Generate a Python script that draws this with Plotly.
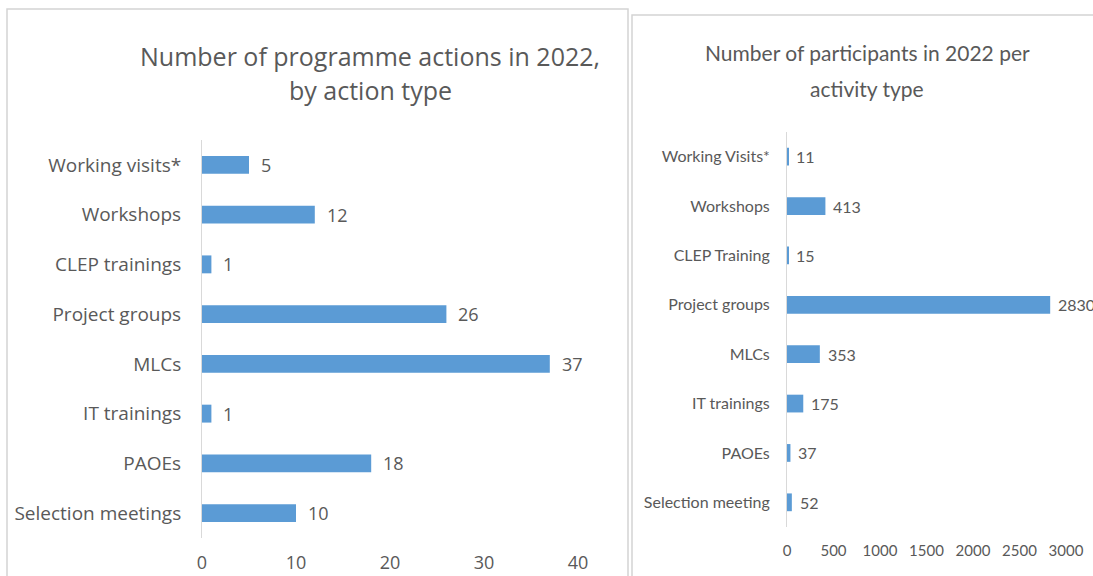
import plotly.graph_objects as go

# left chart: number of actions
action_types = ["Working visits*", "Workshops", "CLEP trainings", "Project groups",
                "MLCs", "IT trainings", "PAOEs", "Selection meetings"]
action_counts = [5, 12, 1, 26, 37, 1, 18, 10]
action_ticks = [0, 10, 20, 30, 40]

# right chart: number of participants
activity_types = ["Working Visits*", "Workshops", "CLEP Training", "Project groups",
                  "MLCs", "IT trainings", "PAOEs", "Selection meeting"]
participants = [11, 413, 15, 2830, 353, 175, 37, 52]
participant_ticks = [0, 500, 1000, 1500, 2000, 2500, 3000]

BAR = "#5B9BD5"
TEXT = "#595959"
AXIS = "#D9D9D9"
WIDE = "Open Sans, Lato, sans-serif"
NARROW = "Lato, Open Sans, sans-serif"
W, H = 1093, 576

fig = go.Figure()
fig.add_trace(go.Bar(
    x=action_counts, y=action_types, orientation="h",
    marker=dict(color=BAR, line=dict(width=0)),
    xaxis="x", yaxis="y", showlegend=False,
))
fig.add_trace(go.Bar(
    x=participants, y=activity_types, orientation="h",
    marker=dict(color=BAR, line=dict(width=0)),
    xaxis="x2", yaxis="y2", showlegend=False,
))

annotations = []
for v, c in zip(action_counts, action_types):
    annotations.append(dict(x=v, y=c, xref="x", yref="y", text=str(v), showarrow=False,
                            xanchor="left", xshift=10,
                            font=dict(family=WIDE, size=18, color=TEXT)))
for v, c in zip(participants, activity_types):
    annotations.append(dict(x=v, y=c, xref="x2", yref="y2", text=str(v), showarrow=False,
                            xanchor="left", xshift=6,
                            font=dict(family=NARROW, size=16, color=TEXT)))

# titles, one annotation per line to control line spacing
for text, cx, cy, fam, size in [
    ("Number of programme actions in 2022,", 370, 56, WIDE, 25),
    ("by action type", 370, 90, WIDE, 25),
    ("Number of participants in 2022 per", 867, 53, NARROW, 21),
    ("activity type", 867, 88, NARROW, 21),
]:
    annotations.append(dict(x=cx / W, y=1 - cy / H, xref="paper", yref="paper",
                            text=text, showarrow=False, xanchor="center", yanchor="middle",
                            font=dict(family=fam, size=size, color=TEXT)))

shapes = [
    dict(type="rect", xref="paper", yref="paper", x0=7 / W, x1=628 / W, y0=-0.01, y1=1 - 9 / H,
         line=dict(color="#D4D4D4", width=1.5)),
    dict(type="rect", xref="paper", yref="paper", x0=632 / W, x1=1.01, y0=-0.01, y1=1 - 15 / H,
         line=dict(color="#D4D4D4", width=1.5)),
]

fig.update_layout(
    width=W, height=H,
    margin=dict(t=0, b=0, l=0, r=0),
    paper_bgcolor="white", plot_bgcolor="white",
    bargap=0.64,
    font=dict(family=WIDE, color=TEXT),
    annotations=annotations,
    shapes=shapes,
    xaxis=dict(domain=[202 / W, 578 / W], range=[0, 40], tickvals=action_ticks,
               showgrid=False, zeroline=False, showline=False, automargin=False,
               tickfont=dict(family=WIDE, size=18, color=TEXT), ticklabelstandoff=12, anchor="y"),
    yaxis=dict(domain=[1 - 538 / H, 1 - 140 / H], autorange="reversed",
               showgrid=False, zeroline=False, showline=True, linecolor=AXIS, linewidth=1,
               automargin=False,
               tickfont=dict(family=WIDE, size=19, color=TEXT), ticklabelstandoff=16, anchor="x"),
    xaxis2=dict(domain=[787 / W, 1066 / W], range=[0, 3000], tickvals=participant_ticks,
                showgrid=False, zeroline=False, showline=False, automargin=False,
                tickfont=dict(family=NARROW, size=15, color=TEXT), ticklabelstandoff=13, anchor="y2"),
    yaxis2=dict(domain=[1 - 527 / H, 1 - 132 / H], autorange="reversed",
                showgrid=False, zeroline=False, showline=True, linecolor=AXIS, linewidth=1,
                automargin=False,
                tickfont=dict(family=NARROW, size=16, color=TEXT), ticklabelstandoff=13, anchor="x2"),
)

fig.write_html(
    "out.html",
    config={"responsive": False, "displayModeBar": False},
    post_script="document.body.style.margin='0';document.body.style.overflow='hidden';"
                "document.documentElement.style.overflow='hidden';",
)
